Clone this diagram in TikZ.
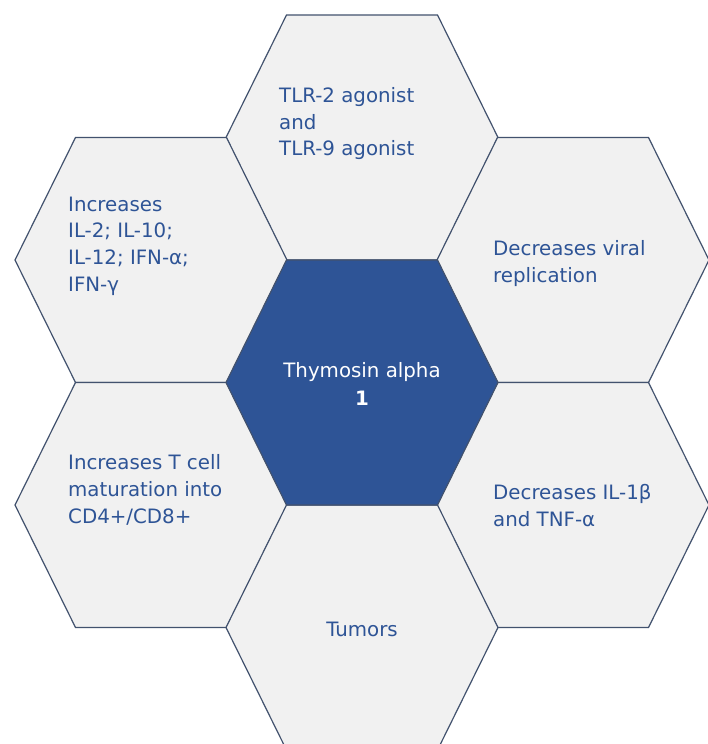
\documentclass[tikz,border=0pt]{standalone}
\usepackage{fontspec}
\setmainfont{DejaVu Sans}
\usetikzlibrary{calc}
\definecolor{hexline}{RGB}{66,82,110}
\definecolor{hexfill}{RGB}{241,241,241}
\definecolor{thymoblue}{RGB}{46,84,150}
\tikzset{
  cell/.style={draw=hexline,line width=1.2pt,fill=hexfill},
  centrecell/.style={draw=hexline,line width=1.2pt,fill=thymoblue},
  lbl/.style={inner sep=0pt,align=left,text=thymoblue,
    font=\fontsize{19.8}{26.8}\selectfont},
}
\begin{document}
\begin{tikzpicture}[x=1pt,y=-1pt]
% Page of 708 x 744
\fill[white] (0,0) rectangle (708,744);
\useasboundingbox (0,0) rectangle (708,744);
\clip (0,0) rectangle (708,744);

% Centres of the cells
\coordinate (C) at (362,382.5);
\coordinate (T) at (362,137.5);
\coordinate (UL) at (151,260);
\coordinate (UR) at (573,260);
\coordinate (LL) at (151,505);
\coordinate (LR) at (573,505);
\coordinate (B) at (362,627.5);

% Draw outer cells
\foreach \c in {T,UL,UR,LL,LR,B}
  \draw[cell] (\c) +(-136,0) -- +(-75.5,-122.5) -- +(75.5,-122.5)
    -- +(136,0) -- +(75.5,122.5) -- +(-75.5,122.5) -- cycle;

% Draw centre cell
\draw[centrecell] (C) +(-136,0) -- +(-75.5,-122.5) -- +(75.5,-122.5)
  -- +(136,0) -- +(75.5,122.5) -- +(-75.5,122.5) -- cycle;

% Labels
\node[lbl,anchor=north west] (tlr) at (279,87)
  {TLR-2 agonist\\and\\TLR-9 agonist};
\node[lbl,anchor=north west] (incil) at (68,196.5)
  {Increases\\IL-2; IL-10;\\IL-12; IFN-α;\\IFN-γ};
\node[lbl,anchor=north west] (viral) at (493,240.5)
  {Decreases viral\\replication};
\node[lbl,anchor=north west] (tcell) at (68,454.5)
  {Increases T cell\\maturation into\\CD4+/CD8+};
\node[lbl,anchor=north west] (decil) at (493,484.5)
  {Decreases IL-1β\\and TNF-α};
\node[lbl,anchor=base] (tumors) at (362,636) {Tumors};
\node[lbl,anchor=north,align=center,text=white,
  font=\fontsize{19.8}{27.5}\selectfont] (thymo) at (362,362.5)
  {Thymosin alpha\\\textbf{1}};
\end{tikzpicture}
\end{document}
